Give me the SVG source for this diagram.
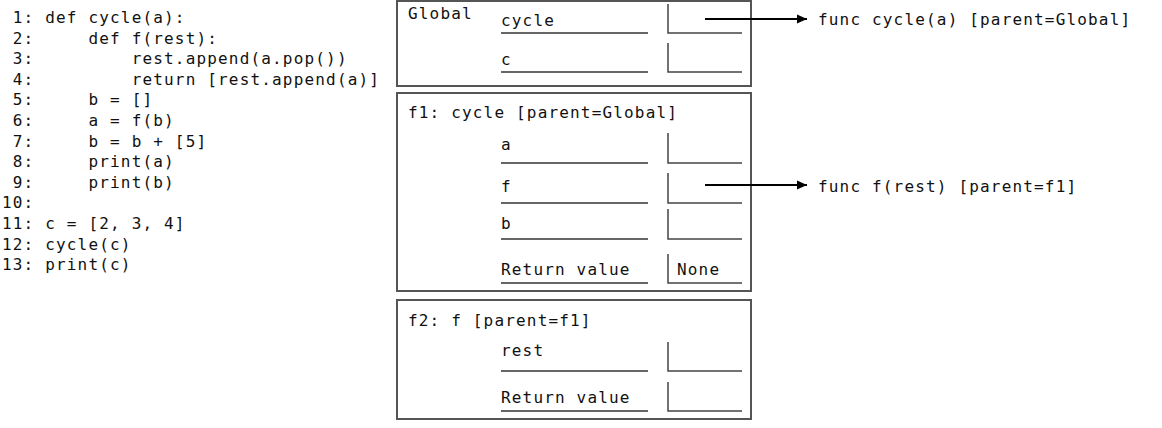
<svg xmlns="http://www.w3.org/2000/svg" width="1162" height="428" viewBox="0 0 1162 428">
<defs>
<style>
text{font-family:"DejaVu Sans Mono","Liberation Mono",monospace;font-size:16px;letter-spacing:1.17px;fill:#111;white-space:pre}
.frame{fill:#fff;stroke:#555;stroke-width:2}
.ul{stroke:#666;stroke-width:2;fill:none}
.vb{stroke:#444;stroke-width:1.5;fill:none}
.arr{stroke:#000;stroke-width:2;fill:none}
</style>
<marker id="ah" markerWidth="12" markerHeight="12" refX="10" refY="6" orient="auto" markerUnits="userSpaceOnUse">
<path d="M0,1.5 L10,6 L0,10.5 Z" fill="#000"/>
</marker>
</defs>
<rect width="1162" height="428" fill="#fff"/>
<g id="code">
<text x="2" y="23" xml:space="preserve"> 1: def cycle(a):</text>
<text x="2" y="43.6" xml:space="preserve"> 2:     def f(rest):</text>
<text x="2" y="64.2" xml:space="preserve"> 3:         rest.append(a.pop())</text>
<text x="2" y="84.8" xml:space="preserve"> 4:         return [rest.append(a)]</text>
<text x="2" y="105.4" xml:space="preserve"> 5:     b = []</text>
<text x="2" y="126" xml:space="preserve"> 6:     a = f(b)</text>
<text x="2" y="146.6" xml:space="preserve"> 7:     b = b + [5]</text>
<text x="2" y="167.2" xml:space="preserve"> 8:     print(a)</text>
<text x="2" y="187.8" xml:space="preserve"> 9:     print(b)</text>
<text x="2" y="208.4" xml:space="preserve">10:</text>
<text x="2" y="229" xml:space="preserve">11: c = [2, 3, 4]</text>
<text x="2" y="249.6" xml:space="preserve">12: cycle(c)</text>
<text x="2" y="270.2" xml:space="preserve">13: print(c)</text>
</g>
<g id="global">
<rect class="frame" x="397" y="1" width="354" height="85"/>
<text x="408" y="19">Global</text>
<text x="501" y="26">cycle</text>
<line class="ul" x1="501" y1="33" x2="648" y2="33"/>
<path class="vb" d="M668,4 V33 H742"/>
<text x="501" y="65">c</text>
<line class="ul" x1="501" y1="72" x2="648" y2="72"/>
<path class="vb" d="M668,43 V72 H742"/>
</g>
<g id="f1">
<rect class="frame" x="397" y="93" width="354" height="198"/>
<text x="408" y="118">f1: cycle [parent=Global]</text>
<text x="501" y="150">a</text>
<line class="ul" x1="501" y1="163" x2="648" y2="163"/>
<path class="vb" d="M668,133 V163 H742"/>
<text x="501" y="192">f</text>
<line class="ul" x1="501" y1="203" x2="648" y2="203"/>
<path class="vb" d="M668,173 V203 H742"/>
<text x="501" y="229">b</text>
<line class="ul" x1="501" y1="239" x2="648" y2="239"/>
<path class="vb" d="M668,209 V239 H742"/>
<text x="501" y="275">Return value</text>
<line class="ul" x1="501" y1="283" x2="648" y2="283"/>
<path class="vb" d="M668,254 V283 H742"/>
<text x="677" y="275">None</text>
</g>
<g id="f2">
<rect class="frame" x="397" y="300" width="354" height="119"/>
<text x="408" y="326">f2: f [parent=f1]</text>
<text x="501" y="356">rest</text>
<line class="ul" x1="501" y1="371" x2="648" y2="371"/>
<path class="vb" d="M668,342 V371 H742"/>
<text x="501" y="403">Return value</text>
<line class="ul" x1="501" y1="411" x2="648" y2="411"/>
<path class="vb" d="M668,382 V411 H742"/>
</g>
<g id="objects">
<text x="818" y="25">func cycle(a) [parent=Global]</text>
<text x="818" y="192">func f(rest) [parent=f1]</text>
</g>
<g id="connectors">
<line class="arr" x1="705" y1="19" x2="807" y2="19" marker-end="url(#ah)"/>
<line class="arr" x1="705" y1="185" x2="807" y2="185" marker-end="url(#ah)"/>
</g>
</svg>
